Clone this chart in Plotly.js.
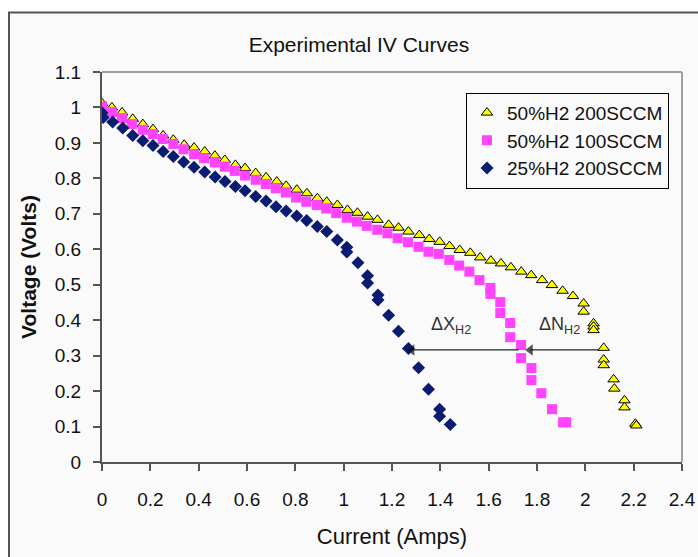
<!DOCTYPE html>
<html>
<head>
<meta charset="utf-8">
<script src="https://cdn.plot.ly/plotly-3.0.1.min.js"></script>
<style>html,body{margin:0;padding:0;background:#fff;}#chart{width:698px;height:557px;}</style>
</head>
<body>
<div id="chart"></div>
<script>
// 50%H2 200SCCM (triangles)
const triX = [0.000,0.041,0.083,0.127,0.169,0.211,0.253,0.295,0.340,0.381,0.425,0.467,0.508,0.552,0.592,0.636,0.679,0.723,0.762,0.806,0.848,0.891,0.930,0.974,1.016,1.057,1.099,1.140,1.186,1.227,1.268,1.313,1.354,1.397,1.438,1.480,1.524,1.565,1.609,1.651,1.692,1.735,1.776,1.821,1.862,1.906,1.949,1.993,1.993,2.034,2.034,2.034,2.076,2.076,2.076,2.117,2.120,2.162,2.162,2.207,2.211];
const triY = [1.012,1.000,0.986,0.968,0.953,0.939,0.921,0.909,0.895,0.887,0.876,0.864,0.852,0.838,0.829,0.815,0.803,0.791,0.779,0.768,0.758,0.744,0.734,0.725,0.711,0.703,0.692,0.683,0.669,0.661,0.650,0.640,0.629,0.621,0.609,0.598,0.590,0.577,0.568,0.560,0.549,0.537,0.527,0.513,0.499,0.483,0.468,0.447,0.424,0.391,0.382,0.372,0.322,0.289,0.273,0.233,0.207,0.174,0.154,0.108,0.103];
// 50%H2 100SCCM (squares)
const sqX = [0.000,0.041,0.083,0.124,0.169,0.210,0.251,0.295,0.337,0.381,0.422,0.467,0.508,0.549,0.592,0.636,0.678,0.719,0.761,0.803,0.845,0.889,0.928,0.969,1.013,1.055,1.096,1.139,1.181,1.223,1.266,1.310,1.351,1.394,1.437,1.478,1.520,1.562,1.607,1.607,1.648,1.648,1.689,1.689,1.734,1.734,1.777,1.777,1.818,1.862,1.908,1.921];
const sqY = [1.003,0.987,0.970,0.953,0.937,0.925,0.911,0.897,0.882,0.868,0.857,0.845,0.833,0.821,0.808,0.796,0.784,0.772,0.760,0.746,0.734,0.725,0.715,0.702,0.689,0.678,0.666,0.655,0.645,0.631,0.620,0.607,0.593,0.587,0.570,0.554,0.537,0.513,0.491,0.474,0.451,0.420,0.392,0.352,0.330,0.293,0.265,0.231,0.194,0.149,0.112,0.112];
// 25%H2 200SCCM (diamonds)
const diX = [0.000,0.005,0.044,0.086,0.127,0.169,0.211,0.253,0.295,0.338,0.381,0.425,0.468,0.509,0.552,0.592,0.636,0.679,0.720,0.762,0.806,0.847,0.891,0.930,0.974,1.013,1.013,1.059,1.099,1.099,1.142,1.142,1.186,1.227,1.268,1.310,1.351,1.397,1.397,1.441];
const diY = [0.985,0.972,0.959,0.942,0.921,0.906,0.893,0.876,0.862,0.846,0.831,0.818,0.804,0.791,0.777,0.765,0.749,0.736,0.720,0.708,0.694,0.681,0.664,0.650,0.626,0.606,0.592,0.562,0.525,0.505,0.471,0.457,0.414,0.369,0.320,0.266,0.205,0.149,0.129,0.106];

const seriesNames = ['50%H2 200SCCM','50%H2 100SCCM','25%H2 200SCCM'];
const xTicks = [0,0.2,0.4,0.6,0.8,1,1.2,1.4,1.6,1.8,2,2.2,2.4];
const xTickText = ['0','0.2','0.4','0.6','0.8','1','1.2','1.4','1.6','1.8','2','2.2','2.4'];
const yTicks = [0,0.1,0.2,0.3,0.4,0.5,0.6,0.7,0.8,0.9,1,1.1];
const yTickText = ['0','0.1','0.2','0.3','0.4','0.5','0.6','0.7','0.8','0.9','1','1.1'];
// arrows: x = [tail, head], shared y
const arrowNX = [2.054, 1.772];
const arrowXX = [1.724, 1.282];
const arrowY = [0.316, 0.316];

const FONT = 'Liberation Sans, Arial, sans-serif';

const arrowTrace = (xs) => ({
  x: xs, y: arrowY, type: 'scatter', mode: 'lines+markers', showlegend: false, hoverinfo: 'skip',
  line: {color: '#222222', width: 1.2},
  marker: {symbol: ['circle', 'triangle-left'], size: [0, 10], color: '#111111', line: {width: 0}}
});

const traces = [
  {x: triX, y: triY, name: seriesNames[0], type: 'scatter', mode: 'markers', legendgroup: 'a',
   marker: {symbol: 'triangle-up', size: 10, color: '#ffff00', line: {color: '#000000', width: 1}}},
  {x: sqX, y: sqY, name: seriesNames[1], type: 'scatter', mode: 'markers', legendgroup: 'b',
   marker: {symbol: 'square', size: 10, color: '#ff44ff', line: {width: 0}}},
  {x: diX, y: diY, name: seriesNames[2], type: 'scatter', mode: 'markers', legendgroup: 'c',
   marker: {symbol: 'diamond', size: 10, color: '#0a1c72', line: {width: 0}}},
  arrowTrace(arrowNX),
  arrowTrace(arrowXX)
];

const layout = {
  width: 698, height: 557,
  margin: {l: 102, r: 16, t: 72, b: 95, pad: 0},
  paper_bgcolor: '#ffffff',
  plot_bgcolor: 'rgba(0,0,0,0)',
  font: {family: FONT, size: 19, color: '#111111'},
  showlegend: true,
  title: {text: 'Experimental IV Curves', font: {family: FONT, size: 21, color: '#111111'},
          x: 0.443, xref: 'paper', xanchor: 'center', y: 1 - 45/557, yref: 'container', yanchor: 'middle'},
  xaxis: {range: [0, 2.4], tickmode: 'array', tickvals: xTicks, ticktext: xTickText,
          showgrid: false, zeroline: false, showline: true, linecolor: '#555555', linewidth: 2,
          ticks: 'outside', ticklen: 7, tickwidth: 2, tickcolor: '#555555',
          ticklabelstandoff: 12,
          tickfont: {family: FONT, size: 19, color: '#111111'},
          title: {text: 'Current (Amps)', font: {family: FONT, size: 22, color: '#111111'}, standoff: 20}},
  yaxis: {range: [0, 1.1], tickmode: 'array', tickvals: yTicks, ticktext: yTickText,
          showgrid: false, zeroline: false, showline: true, linecolor: '#555555', linewidth: 2,
          ticks: 'outside', ticklen: 7, tickwidth: 2, tickcolor: '#555555',
          ticklabelstandoff: 8,
          tickfont: {family: FONT, size: 19, color: '#111111'},
          title: {text: '<b>Voltage (Volts)</b>', font: {family: FONT, size: 21, color: '#111111'}, standoff: 12}},
  legend: {x: (466-102)/580, y: (461.7-93)/389.4, xanchor: 'left', yanchor: 'top',
           bgcolor: '#fafafa', bordercolor: '#000000', borderwidth: 1,
           entrywidth: 111, entrywidthmode: 'pixels',
           font: {family: FONT, size: 19, color: '#111111'}, tracegroupgap: 0, itemsizing: 'trace'},
  shapes: [
    {type: 'rect', xref: 'paper', yref: 'paper', layer: 'below',
     x0: (9-102)/580, x1: (705-102)/580, y0: (461.7-565)/389.4, y1: (461.7-13)/389.4,
     fillcolor: '#fafafa', line: {color: '#555555', width: 2}},
    {type: 'line', xref: 'paper', yref: 'paper', x0: 0, x1: 1, y0: 1, y1: 1,
     line: {color: '#a0a0a0', width: 2}},
    {type: 'line', xref: 'paper', yref: 'paper', x0: 1, x1: 1, y0: 0, y1: 1,
     line: {color: '#a0a0a0', width: 2}}
  ],
  annotations: [
    {x: 1.445, y: 0.385, xref: 'x', yref: 'y', text: 'ΔX<sub>H2</sub>', showarrow: false,
     font: {family: FONT, size: 18, color: '#333333'}},
    {x: 1.892, y: 0.385, xref: 'x', yref: 'y', text: 'ΔN<sub>H2</sub>', showarrow: false,
     font: {family: FONT, size: 18, color: '#333333'}}
  ]
};

Plotly.newPlot('chart', traces, layout, {displayModeBar: false, staticPlot: true});
</script>
</body>
</html>
